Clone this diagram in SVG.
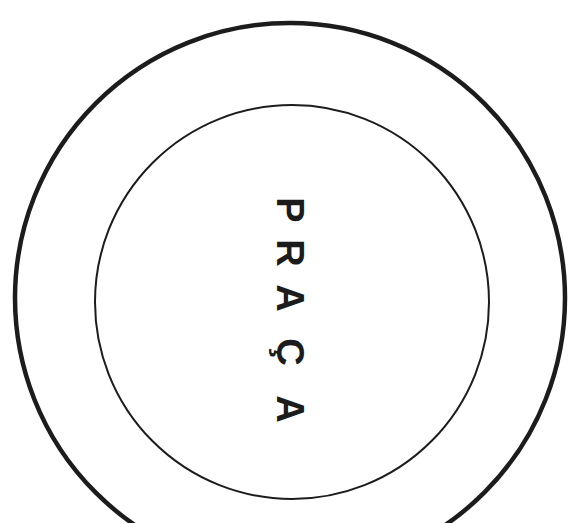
<svg xmlns="http://www.w3.org/2000/svg" width="576" height="523" viewBox="0 0 576 523">
<style>
.ring{fill:none;stroke:#1c1c1c}
.lbl{font-family:"Liberation Sans",Arial,sans-serif;font-weight:bold;font-size:38px;fill:#1c1c1c;text-anchor:middle}
</style>
<rect width="576" height="523" fill="#ffffff"/>
<g id="outer-circle"><circle class="ring" cx="290" cy="298" r="275" stroke-width="4.5"/></g>
<g id="inner-circle"><circle class="ring" cx="292" cy="302" r="197" stroke-width="2"/></g>
<g id="label">
<text class="lbl" x="210" y="-277" transform="rotate(90)">P</text>
<text class="lbl" x="253" y="-277" transform="rotate(90)">R</text>
<text class="lbl" x="298" y="-277" transform="rotate(90)">A</text>
<text class="lbl" x="352" y="-277" transform="rotate(90)">Ç</text>
<text class="lbl" x="409" y="-277" transform="rotate(90)">A</text>
</g>
</svg>
